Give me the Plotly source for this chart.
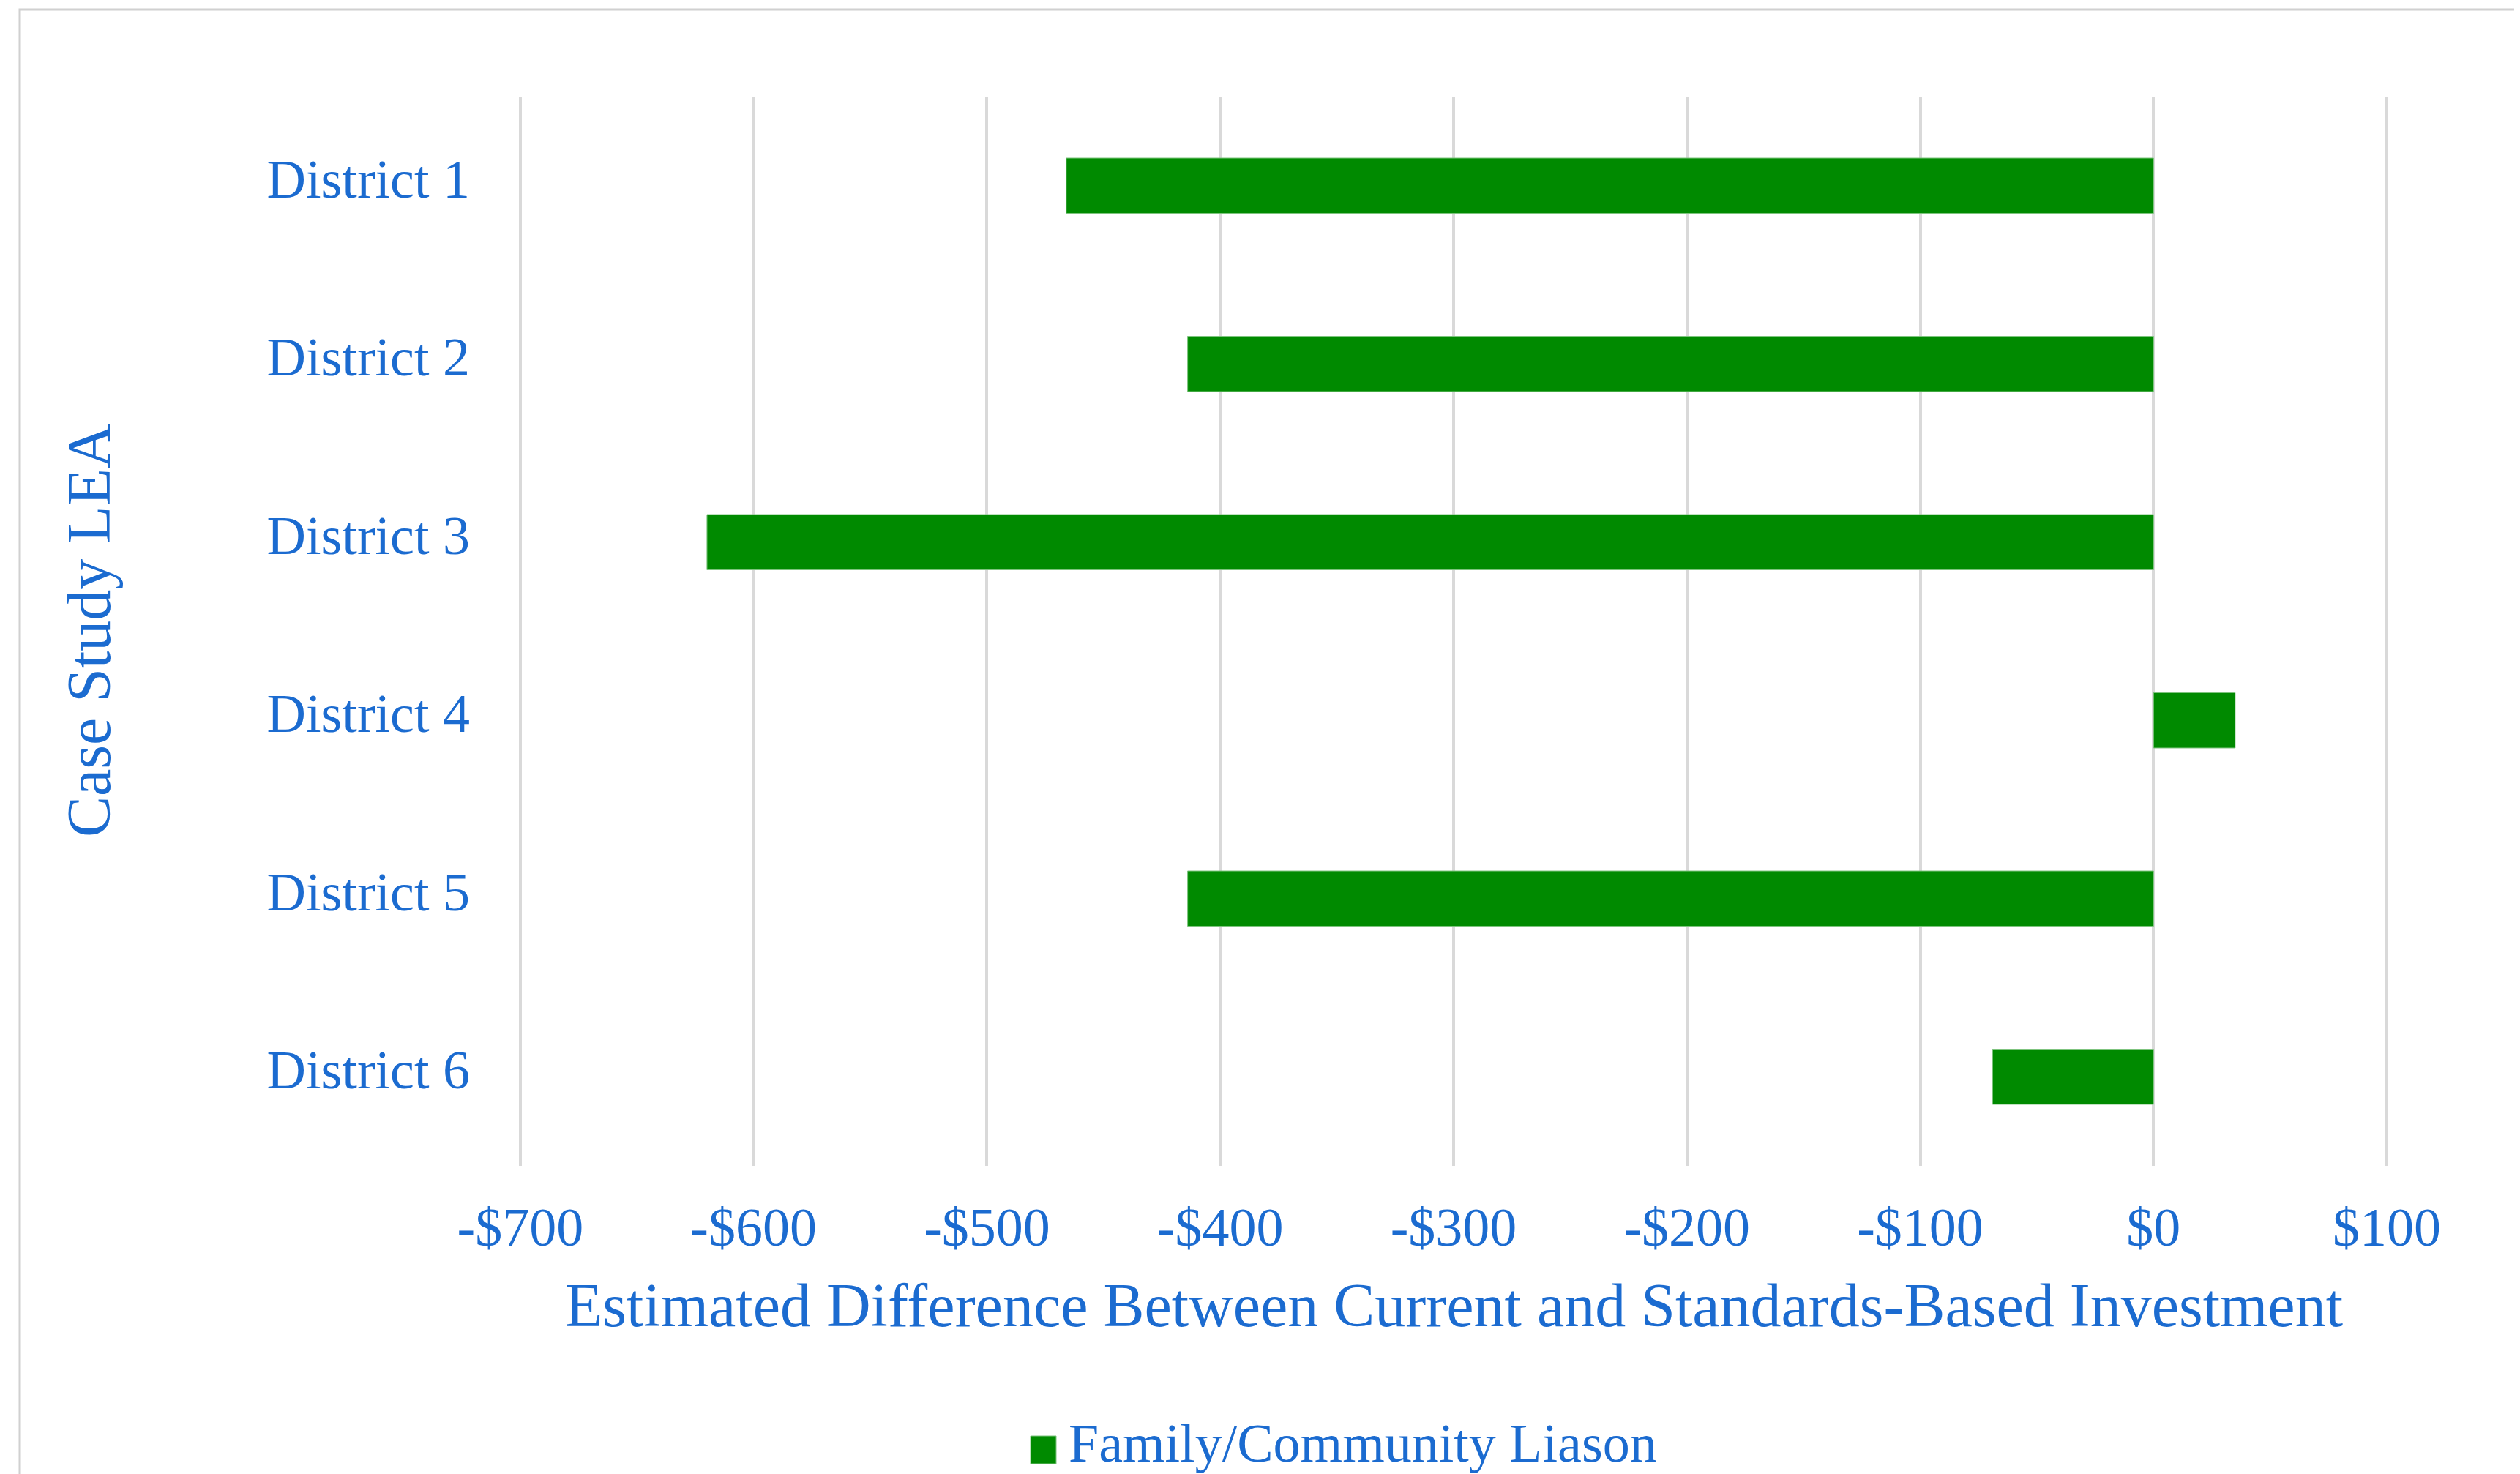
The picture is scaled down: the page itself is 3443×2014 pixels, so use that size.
import plotly.graph_objects as go

# ---- data ----
districts = ["District 1", "District 2", "District 3", "District 4", "District 5", "District 6"]
differences = [-466, -414, -620, 35, -414, -69]
series_name = "Family/Community Liason"
x_tick_values = [-700, -600, -500, -400, -300, -200, -100, 0, 100]
x_tick_labels = ["-$700", "-$600", "-$500", "-$400", "-$300", "-$200", "-$100", "$0", "$100"]
x_title = "Estimated Difference Between Current and Standards-Based Investment"
y_title = "Case Study LEA"

# ---- style ----
OFF = 8  # default page margin of the html body
W, H = 3443 - OFF, 2014 - OFF
L, T = 709 - OFF, 132 - OFF          # plot-area left/top in figure px
PW, PH = 3263 - 709, 1593 - 132      # plot-area size
R, B = W - L - PW, H - T - PH
BLUE = "#1B6BD0"
GREEN = "#008A00"
GRID = "#D9D9D9"
FONT = "Liberation Serif, Times New Roman, serif"
PAD = 0.6  # tiny range padding so edge gridlines are drawn


def px_x(px):
    """page x pixel -> paper coordinate"""
    return (px - OFF - L) / PW


def px_y(py):
    """page y pixel -> paper coordinate"""
    return (T + PH - (py - OFF)) / PH


fig = go.Figure()
fig.add_trace(go.Bar(
    y=districts, x=differences, orientation="h", name=series_name,
    marker=dict(color=GREEN, line=dict(color="#7FC47F", width=1)),
    showlegend=False,
))

fig.update_layout(
    width=W, height=H,
    margin=dict(l=L, r=R, t=T, b=B, autoexpand=False),
    paper_bgcolor="white", plot_bgcolor="white",
    bargap=0.69,
    font=dict(family=FONT, color=BLUE),
    xaxis=dict(
        range=[x_tick_values[0] - PAD, x_tick_values[-1] + PAD],
        tickvals=x_tick_values, ticktext=x_tick_labels,
        showgrid=True, gridcolor=GRID, gridwidth=4, zeroline=False,
        showline=False, ticks="", tickfont=dict(size=74, family=FONT, color=BLUE),
        ticklabelstandoff=34, automargin=False, fixedrange=True,
    ),
    yaxis=dict(
        autorange="reversed", showgrid=False, zeroline=False, showline=False,
        ticks="", tickfont=dict(size=74, family=FONT, color=BLUE),
        ticklabelstandoff=66, ticklabelshift=10, automargin=False, fixedrange=True,
    ),
    annotations=[
        dict(text=x_title, xref="paper", yref="paper", x=0.5, y=px_y(1783),
             xanchor="center", yanchor="middle", showarrow=False,
             font=dict(size=84, family=FONT, color=BLUE)),
        dict(text=y_title, xref="paper", yref="paper", x=px_x(121), y=px_y(862),
             xanchor="center", yanchor="middle", textangle=-90, showarrow=False,
             font=dict(size=84, family=FONT, color=BLUE)),
        dict(text=series_name, xref="paper", yref="paper", x=px_x(1458), y=px_y(1972),
             xanchor="left", yanchor="middle", showarrow=False,
             font=dict(size=74, family=FONT, color=BLUE)),
    ],
    shapes=[
        # chart-area border
        dict(type="rect", xref="paper", yref="paper",
             x0=px_x(27), x1=px_x(3600), y0=px_y(2200), y1=px_y(13),
             line=dict(color="#D0D0D0", width=3), fillcolor="rgba(0,0,0,0)", layer="below"),
        # legend swatch
        dict(type="rect", xref="paper", yref="paper",
             x0=px_x(1408), x1=px_x(1443), y0=px_y(2000), y1=px_y(1962),
             line=dict(color="#7FC47F", width=1), fillcolor=GREEN),
    ],
)

fig.write_html("out.html")
